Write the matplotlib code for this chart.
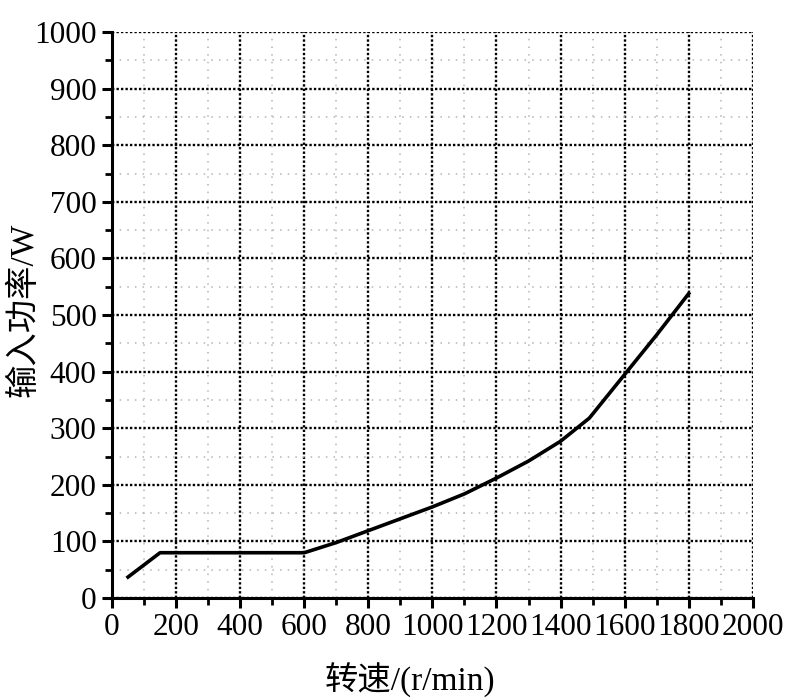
import matplotlib
matplotlib.use("Agg")
from matplotlib import pyplot as plt
from matplotlib.ticker import MultipleLocator

# 数据
speed = [50, 150, 600, 700, 800, 900, 1000, 1100, 1200, 1300, 1400, 1490, 1600, 1700, 1800]
power = [37, 80, 80, 98, 119, 140, 161, 184, 212, 242, 277, 318, 395, 465, 538]

xlabel = "转速/(r/min)"
ylabel = "输入功率/W"

plt.rcParams['font.family'] = ['Liberation Serif', 'Noto Sans CJK SC']

fig = plt.figure(figsize=(8, 6.99), dpi=100)
ax = fig.add_axes([0.14, 0.1445, 0.801, 0.8095])

ax.plot(speed, power, color="black", lw=2.6)

ax.set_xlim(0, 2000)
ax.set_ylim(0, 1000)
ax.xaxis.set_major_locator(MultipleLocator(200))
ax.xaxis.set_minor_locator(MultipleLocator(100))
ax.yaxis.set_major_locator(MultipleLocator(100))
ax.yaxis.set_minor_locator(MultipleLocator(50))

ax.grid(True, which="major", color="black", linestyle=(0, (1, 0.9)), lw=1.7)
ax.grid(True, which="minor", color="#b4b4b4", linestyle=(0, (1, 4)), lw=1.1)
ax.set_axisbelow(True)
# 边缘处不画网格线
for t in (ax.xaxis.get_major_ticks()[-1], ax.yaxis.get_major_ticks()[-1]):
    t.gridline.set_visible(False)

for s in ["top", "right"]:
    ax.spines[s].set_visible(False)
for s in ["left", "bottom"]:
    ax.spines[s].set_linewidth(2.2)

ax.tick_params(which="major", direction="out", length=7, width=2.2, labelsize=22.5, pad=4)
ax.tick_params(which="minor", direction="out", length=5, width=2.0)

ax.set_xlabel(xlabel, fontsize=24, va="center")
ax.xaxis.set_label_coords(0.465, -0.145)
ax.set_ylabel(ylabel, fontsize=24, va="center")
ax.yaxis.set_label_coords(-0.138, 0.51)

fig.savefig("out.png", dpi=100)
